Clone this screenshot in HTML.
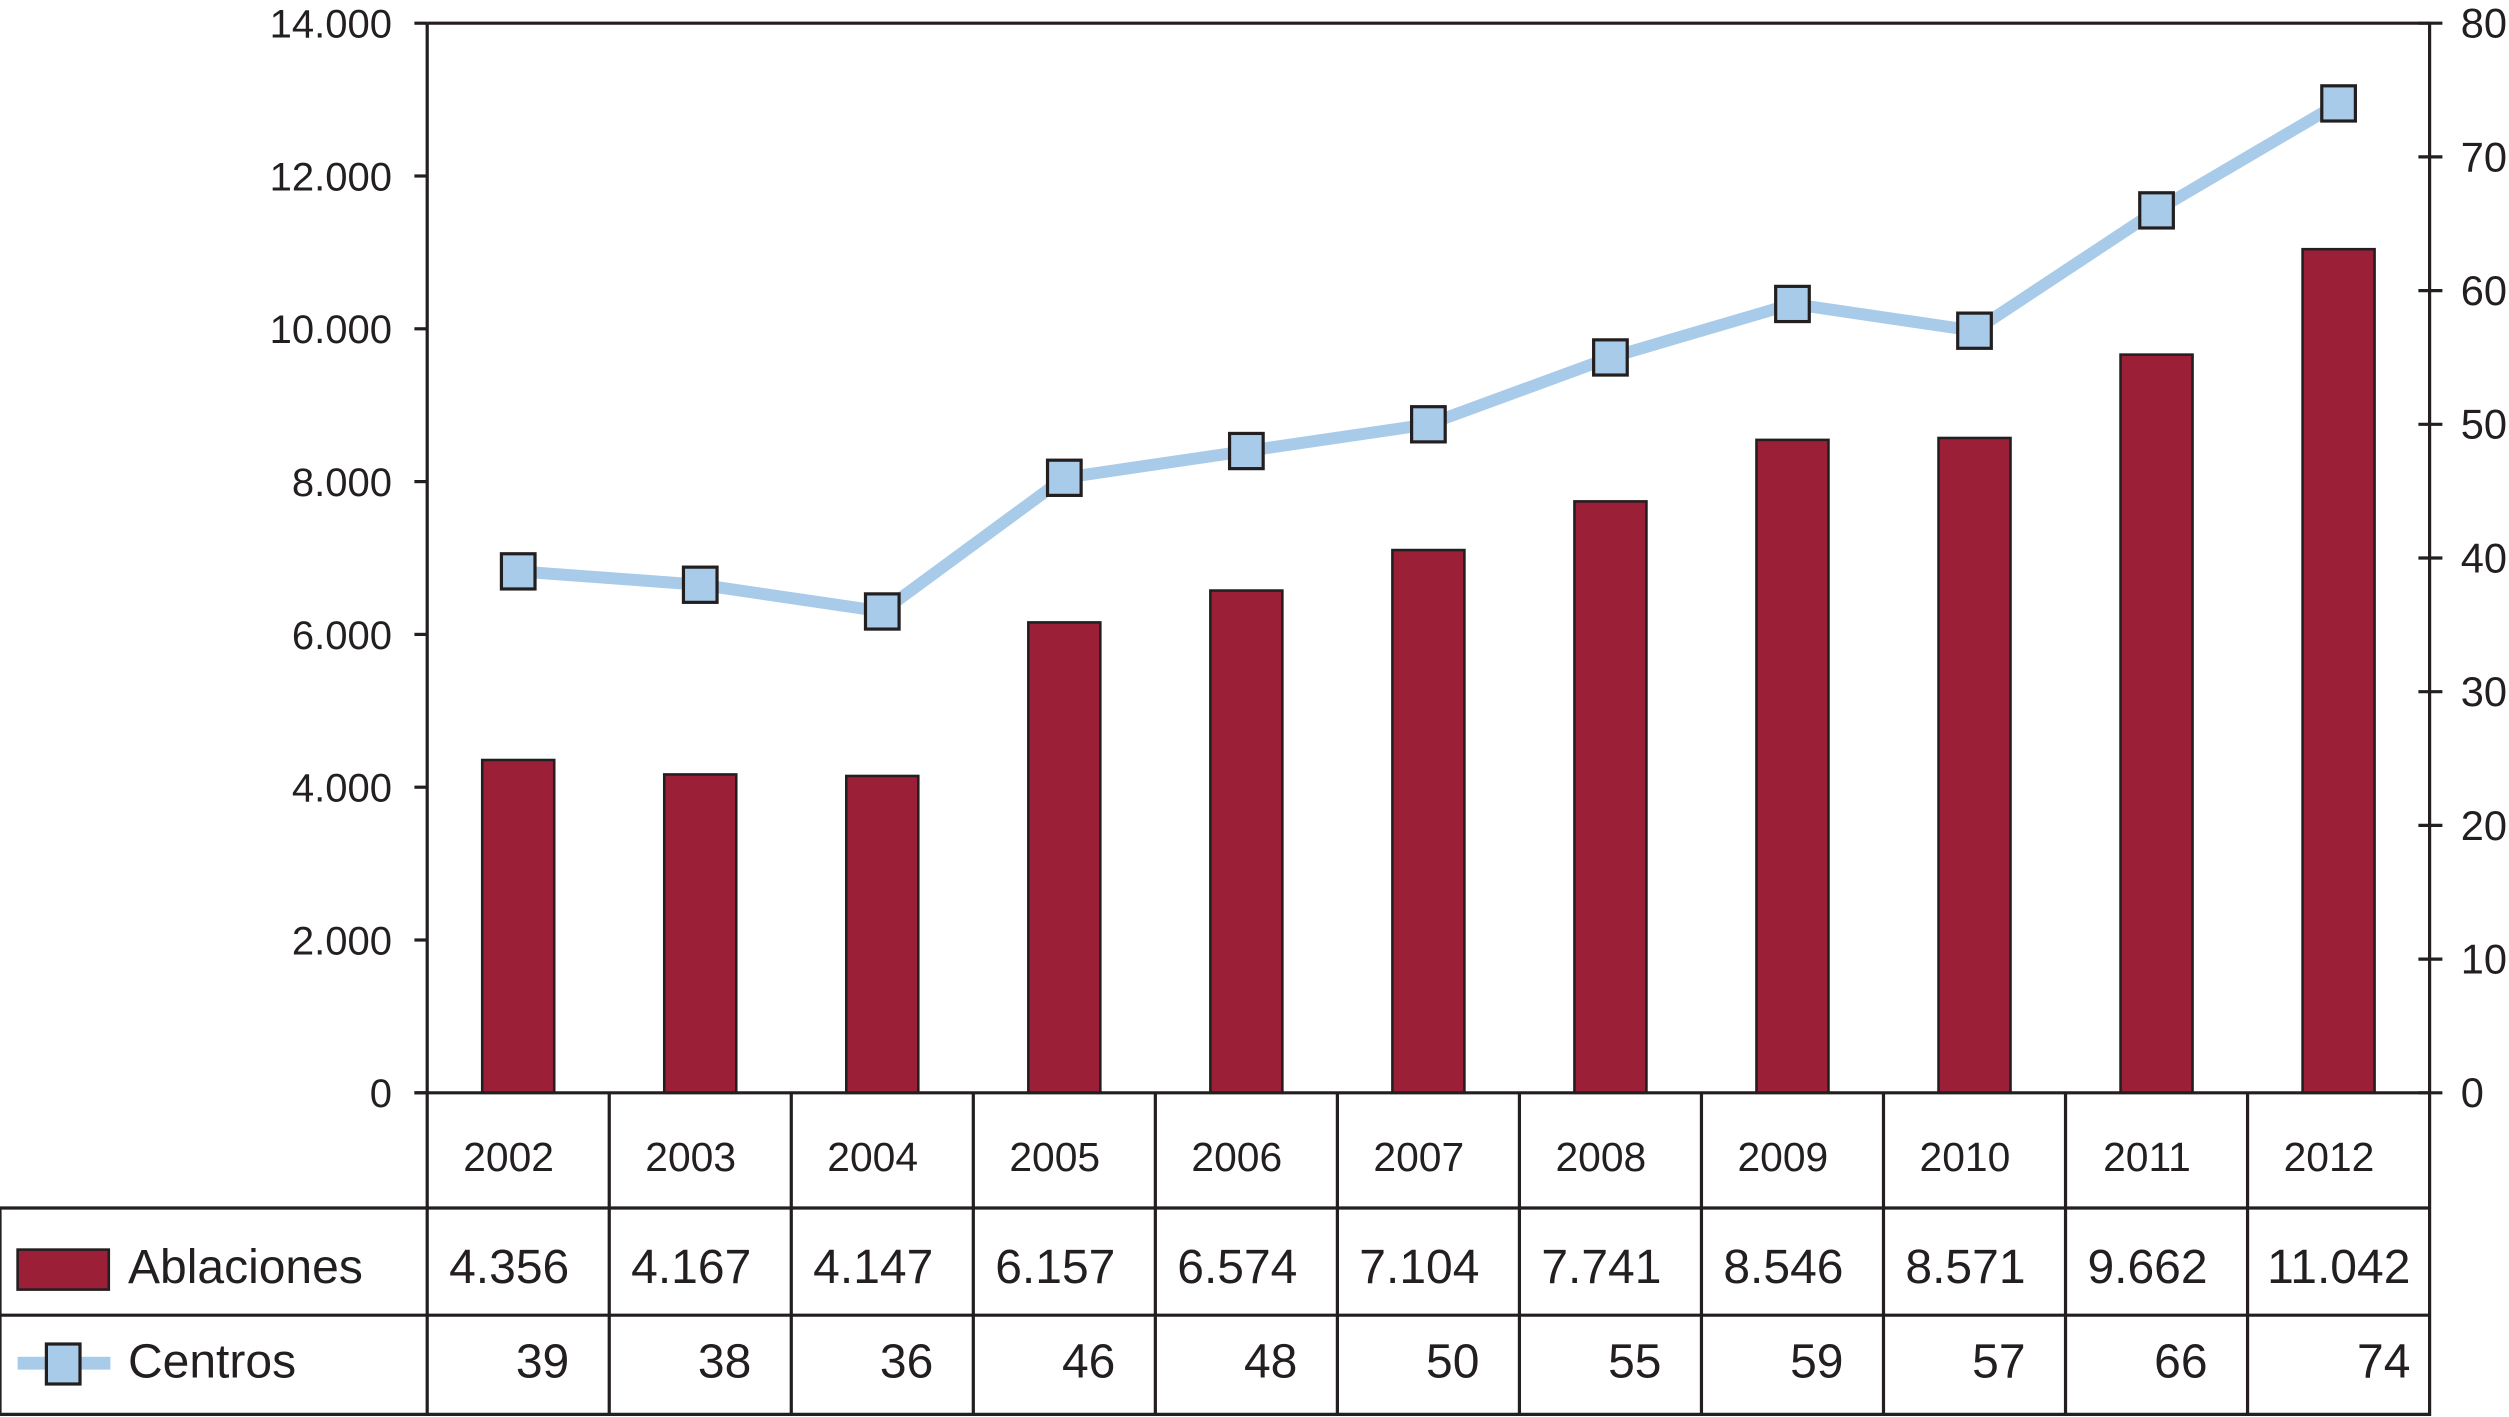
<!DOCTYPE html>
<html><head><meta charset="utf-8"><style>html,body{margin:0;padding:0;background:#fff}svg{display:block}text{font-family:"Liberation Sans",sans-serif;fill:#231f20}</style></head>
<body>
<svg id="chart" width="2509" height="1417" viewBox="0 0 1568.125 885.625" xmlns="http://www.w3.org/2000/svg"></svg>
<script>
const years=["2002","2003","2004","2005","2006","2007","2008","2009","2010","2011","2012"];
const ablaciones=[4356,4167,4147,6157,6574,7104,7741,8546,8571,9662,11042];
const ablLabels=["4.356","4.167","4.147","6.157","6.574","7.104","7.741","8.546","8.571","9.662","11.042"];
const centros=[39,38,36,46,48,50,55,59,57,66,74];
const leftTicks=[0,2000,4000,6000,8000,10000,12000,14000];
const leftTickLabels=["0","2.000","4.000","6.000","8.000","10.000","12.000","14.000"];
const rightTicks=[0,10,20,30,40,50,60,70,80];

const svg=document.getElementById('chart');
const NS='http://www.w3.org/2000/svg';
const L=267,R=1518.5,T=14.5,B=683;
const n=years.length,cw=(R-L)/n;
const yL=v=>B-(v/14000)*(B-T);
const yR=v=>B-(v/80)*(B-T);
const xC=i=>L+cw*(i+0.5);
function mk(tag,a,parent){const e=document.createElementNS(NS,tag);for(const k in a)e.setAttribute(k,a[k]);(parent||svg).appendChild(e);return e;}
function tx(s,x,y,anchor,size){const e=mk('text',{x:x,y:y,'text-anchor':anchor,'font-size':size});e.textContent=s;return e;}

ablaciones.forEach((v,i)=>{
  const r=mk('rect',{x:xC(i)-22.5,y:yL(v),width:45,height:B-yL(v),fill:'#9b2037',stroke:'#231f20','stroke-width':1.6});
  
  
});
const ax=mk('path',{d:`M${L},${T} H${R} M${L},${T} V${B} M${R},${T} V${B} M${L-8},${B} H${R}`,stroke:'#231f20','stroke-width':2,fill:'none'});


leftTicks.forEach((v,i)=>{
  mk('line',{x1:L-8,x2:L,y1:yL(v),y2:yL(v),stroke:'#231f20','stroke-width':2});
  const t=tx(leftTickLabels[i],245,yL(v)+9,'end',25);
  
  
});
rightTicks.forEach(v=>{
  mk('line',{x1:R-7,x2:R+8,y1:yR(v),y2:yR(v),stroke:'#231f20','stroke-width':2});
  const t=tx(String(v),1538,yR(v)+9,'start',26);
  
  
});
const pts=centros.map((v,i)=>xC(i)+','+yR(v)).join(' ');
const pl=mk('polyline',{points:pts,fill:'none',stroke:'#a9cbea','stroke-width':7.5,'stroke-linejoin':'round'});


centros.forEach((v,i)=>{
  const m=mk('rect',{x:xC(i)-10.5,y:yR(v)-11,width:21,height:22,fill:'#a9cbea',stroke:'#231f20','stroke-width':2});
  
  
});
const r1=755,r2=822,r3=884;
const tb=mk('path',{d:`M0,${r1} V${r3} H${R} V${B} M0,${r1} H${R} M0,${r2} H${R}`+years.map((y,i)=>` M${L+cw*i},${B} V${r3}`).join(''),stroke:'#231f20','stroke-width':2,fill:'none'});


years.forEach((y,i)=>{
  const t=tx(y,xC(i)-6,732,'middle',25.5);
  
  
  const off=(i===n-1)?12:25;
  const a=tx(ablLabels[i],L+cw*(i+1)-off,802,'end',30);
  
  
  const c=tx(String(centros[i]),L+cw*(i+1)-off,861,'end',30);
  
  
});
const lg1=mk('rect',{x:11,y:781,width:57,height:25,fill:'#9b2037',stroke:'#231f20','stroke-width':1.6});


const lt1=tx('Ablaciones',80,802,'start',30);


const ll=mk('line',{x1:11,x2:69,y1:852,y2:852,stroke:'#a9cbea','stroke-width':8});


const lm=mk('rect',{x:29,y:840,width:21,height:25,fill:'#a9cbea',stroke:'#231f20','stroke-width':2});


const lt2=tx('Centros',80,861,'start',30);


</script>
</body></html>
